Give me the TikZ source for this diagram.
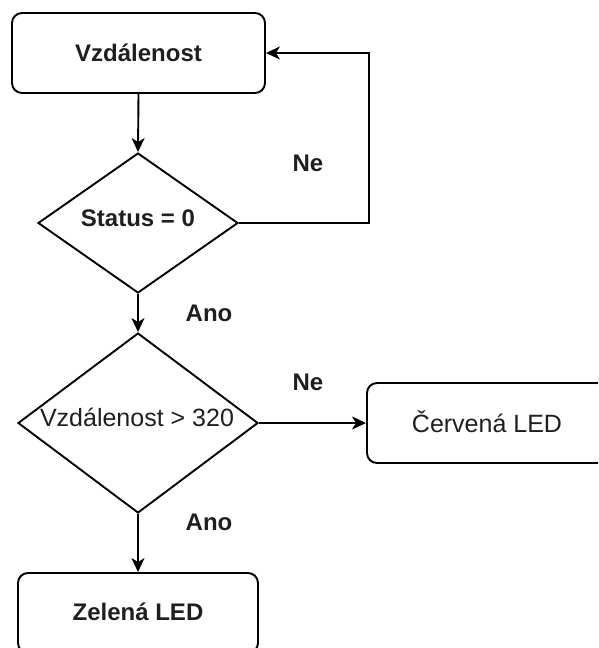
\documentclass[tikz,border=0pt]{standalone}
\usepackage{fontspec}
\setmainfont{Liberation Sans}
\usetikzlibrary{shapes.geometric,arrows.meta}
\begin{document}
\begin{tikzpicture}[x=1pt,y=-1pt,
  every node/.style={font=\fontsize{25}{29}\selectfont, text=black!88},
  procbox/.style={draw, line width=1.9pt, rounded corners=10pt, inner sep=0pt},
  decision/.style={draw, diamond, line width=1.9pt, inner sep=0pt},
  arr/.style={draw, line width=1.9pt, -{Stealth[length=14pt,width=13pt,inset=4pt]}},
  lbl/.style={font=\bfseries\fontsize{24}{28}\selectfont}
]
\useasboundingbox (0,0) rectangle (598,648);
\clip (0,0) rectangle (598,648);

% process boxes and decisions
\node[procbox, minimum width=253pt, minimum height=80pt] (v) at (138.5,53) {};
\node[lbl] (vt) at (138.5,53) {Vzdálenost};

\node[decision, minimum width=200pt, minimum height=140pt] (d1) at (138,223) {};
\node[lbl] (d1t) at (138,218) {Status = 0};

\node[decision, minimum width=240pt, minimum height=180pt] (d2) at (138,423) {};
\node (d2t) at (137,417) {Vzdálenost > 320};

\node[procbox, minimum width=240pt, minimum height=80pt] (r) at (487,423) {};
\node (rt) at (487,422) {Červená LED};

\node[procbox, minimum width=240pt, minimum height=80pt] (g) at (138,613) {};
\node[lbl] (gt) at (138,612) {Zelená LED};

% connectors
\coordinate (loopr) at (369,53);
\draw[arr] (v.south) -- (d1.north);
\draw[arr] (d1.east) -| (loopr) -- (v.east);
\draw[arr] (d1.south) -- (d2.north);
\draw[arr] (d2.east) -- (r.west);
\draw[arr] (d2.south) -- (g.north);

% branch labels
\node[lbl] (ne1) at (308,163) {Ne};
\node[lbl] (ano1) at (209,313) {Ano};
\node[lbl] (ne2) at (308,382) {Ne};
\node[lbl] (ano2) at (209,522) {Ano};
\end{tikzpicture}
\end{document}
